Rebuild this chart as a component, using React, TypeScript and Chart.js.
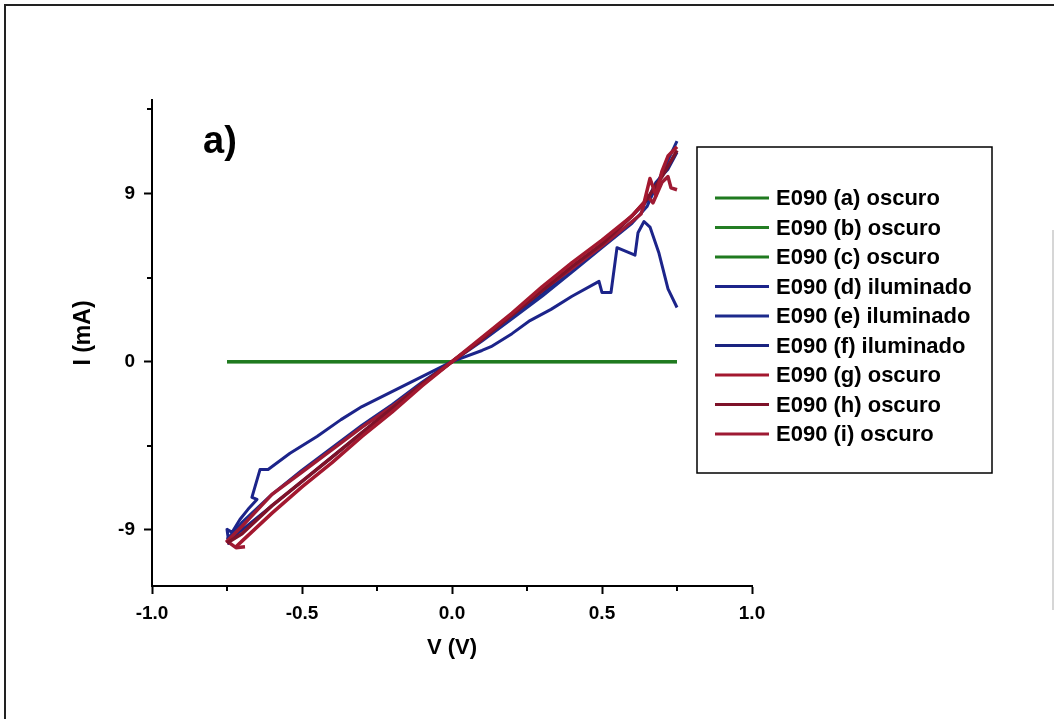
import React, { useEffect, useRef } from "react";
import { Chart, registerables } from "chart.js";

Chart.register(...registerables);

const FONT = "'Liberation Sans', Arial, Helvetica, sans-serif";

// ---------- data ----------
const seriesLabels = [
  "E090 (a) oscuro",
  "E090 (b) oscuro",
  "E090 (c) oscuro",
  "E090 (d) iluminado",
  "E090 (e) iluminado",
  "E090 (f) iluminado",
  "E090 (g) oscuro",
  "E090 (h) oscuro",
  "E090 (i) oscuro",
];

const seriesColors = [
  "#1f7a1f",
  "#237d23",
  "#1f7a1f",
  "#1c248a",
  "#1c2a8c",
  "#1a2380",
  "#a3182f",
  "#7e1229",
  "#9e1a33",
];

const xTickValues = [-1, -0.5, 0, 0.5, 1];
const yTickValues = [-9, 0, 9];
const xMinorTicks = [-0.75, -0.25, 0.25, 0.75];
const yMinorTicks = [-4.5, 4.5, 13.5];

const xTitle = "V (V)";
const yTitle = "I (mA)";
const panelLabel = "a)";

// E090 (a), (b), (c) oscuro
const aV = [-0.75, -0.5, -0.25, 0, 0.25, 0.5, 0.75];
const aI = [0, 0, 0, 0, 0, 0, 0];
const bV = [-0.75, -0.5, -0.25, 0, 0.25, 0.5, 0.75];
const bI = [0, 0, 0, 0, 0, 0, 0];
const cV = [-0.75, -0.5, -0.25, 0, 0.25, 0.5, 0.75];
const cI = [0, 0, 0, 0, 0, 0, 0];

// E090 (d) iluminado (deviating curve)
const dV = [-0.743, -0.75, -0.733, -0.707, -0.68, -0.65, -0.667, -0.64, -0.613, -0.54, -0.45, -0.37, -0.3, -0.2, -0.1, 0, 0.1, 0.13, 0.2, 0.26, 0.33, 0.4, 0.49, 0.5, 0.53, 0.55, 0.58, 0.61, 0.62, 0.64, 0.66, 0.69, 0.72, 0.75];
const dI = [-9.8, -8.97, -9.13, -8.44, -7.9, -7.37, -7.26, -5.77, -5.77, -4.9, -4.0, -3.1, -2.4, -1.6, -0.8, 0, 0.6, 0.8, 1.5, 2.2, 2.8, 3.5, 4.3, 3.7, 3.7, 6.1, 5.9, 5.7, 6.9, 7.5, 7.2, 5.8, 3.9, 2.9];

// E090 (e) iluminado
const eV = [-0.75, -0.7, -0.6, -0.5, -0.4, -0.3, -0.2, -0.1, 0, 0.1, 0.2, 0.3, 0.4, 0.5, 0.6, 0.65, 0.7, 0.75];
const eI = [-9.5, -8.6, -7.1, -5.8, -4.6, -3.4, -2.3, -1.1, 0, 1.1, 2.3, 3.5, 4.8, 6.1, 7.4, 8.3, 10.1, 11.8];

// E090 (f) iluminado
const fV = [0.75, 0.72, 0.68, 0.65, 0.6, 0.5, 0.4, 0.3, 0.2, 0.1, 0, -0.1, -0.2, -0.3, -0.4, -0.5, -0.6, -0.7, -0.74];
const fI = [11.2, 10.3, 9.6, 8.6, 7.8, 6.3, 5.0, 3.6, 2.4, 1.2, 0, -1.2, -2.5, -3.8, -5.1, -6.4, -7.7, -9.0, -9.5];

// E090 (g) oscuro
const gV = [-0.72, -0.7, -0.6, -0.5, -0.4, -0.3, -0.2, -0.1, 0, 0.1, 0.2, 0.3, 0.4, 0.5, 0.6, 0.64, 0.66, 0.68, 0.7, 0.72, 0.75];
const gI = [-9.9, -9.6, -8.1, -6.7, -5.4, -4.0, -2.7, -1.3, 0, 1.3, 2.6, 4.0, 5.3, 6.5, 7.8, 8.5, 9.8, 8.9, 10.2, 11.0, 11.5];

// E090 (h) oscuro
const hV = [0.75, 0.7, 0.65, 0.6, 0.5, 0.4, 0.3, 0.2, 0.1, 0, -0.1, -0.2, -0.3, -0.4, -0.5, -0.6, -0.7, -0.75];
const hI = [11.3, 9.9, 8.7, 7.8, 6.3, 5.1, 3.8, 2.5, 1.2, 0, -1.2, -2.5, -3.8, -5.1, -6.4, -7.7, -9.2, -9.7];

// E090 (i) oscuro
const iV = [-0.69, -0.72, -0.75, -0.7, -0.6, -0.5, -0.4, -0.3, -0.2, -0.1, 0, 0.1, 0.2, 0.3, 0.4, 0.5, 0.6, 0.63, 0.65, 0.67, 0.7, 0.72, 0.73, 0.75];
const iI = [-9.9, -9.95, -9.6, -8.8, -7.1, -5.9, -4.7, -3.5, -2.4, -1.2, 0, 1.2, 2.5, 3.8, 5.0, 6.2, 7.5, 7.9, 8.9, 8.5, 9.6, 9.9, 9.3, 9.2];

const seriesV = [aV, bV, cV, dV, eV, fV, gV, hV, iV];
const seriesI = [aI, bI, cI, dI, eI, fI, gI, hI, iI];
const seriesWidth = [3, 3, 3, 3, 3, 3, 3.5, 3.5, 3.5];
const seriesOrder = [2, 2, 2, 1, 1, 1, 0, 0, 0];

// ---------- decorations ----------
const decor = {
  id: "decor",
  afterDraw(chart: any) {
    const c = chart.ctx as CanvasRenderingContext2D;
    const xs = chart.scales.x;
    const ys = chart.scales.y;
    c.save();

    // outer frame
    c.strokeStyle = "#222";
    c.lineWidth = 2;
    c.beginPath();
    c.moveTo(5, 719);
    c.lineTo(5, 5);
    c.lineTo(1054, 5);
    c.stroke();
    c.strokeStyle = "#c8c8c8";
    c.lineWidth = 1.5;
    c.beginPath();
    c.moveTo(1053, 230);
    c.lineTo(1053, 610);
    c.stroke();

    // minor ticks
    c.strokeStyle = "#000";
    c.lineWidth = 2;
    c.beginPath();
    for (const v of xMinorTicks) {
      const px = Math.round(xs.getPixelForValue(v));
      c.moveTo(px, ys.bottom);
      c.lineTo(px, ys.bottom + 5);
    }
    for (const v of yMinorTicks) {
      const py = Math.round(ys.getPixelForValue(v));
      c.moveTo(xs.left, py);
      c.lineTo(xs.left - 5, py);
    }
    c.stroke();

    // axis titles
    c.fillStyle = "#000";
    c.font = `bold 22px ${FONT}`;
    c.textAlign = "center";
    c.textBaseline = "middle";
    c.fillText(xTitle, (xs.left + xs.right) / 2, 648);
    c.save();
    c.translate(84, 333);
    c.rotate(-Math.PI / 2);
    c.font = `bold 23px ${FONT}`;
    c.fillText(yTitle, 0, 0);
    c.restore();

    // panel label
    c.font = `bold 38px ${FONT}`;
    c.textAlign = "left";
    c.textBaseline = "alphabetic";
    c.fillText(panelLabel, 203, 153);

    // legend box
    const bx = 697, by = 147, bw = 295, bh = 326;
    c.strokeStyle = "#000";
    c.lineWidth = 1.5;
    c.strokeRect(bx, by, bw, bh);
    c.font = `bold 22px ${FONT}`;
    c.textBaseline = "middle";
    chart.data.datasets.forEach((ds: any, k: number) => {
      const y = 198 + k * 29.5;
      c.strokeStyle = ds.borderColor;
      c.lineWidth = 3;
      c.beginPath();
      c.moveTo(715, y);
      c.lineTo(769, y);
      c.stroke();
      c.fillStyle = "#000";
      c.fillText(ds.label, 776, y + 1);
    });

    c.restore();
  },
};

export default function App() {
  const ref = useRef<HTMLCanvasElement>(null);

  useEffect(() => {
    document.body.style.margin = "0";
    const canvas = ref.current!;
    const datasets = seriesLabels.map((label, k) => ({
      label,
      data: seriesV[k].map((v, j) => ({ x: v, y: seriesI[k][j] })),
      borderColor: seriesColors[k],
      backgroundColor: seriesColors[k],
      borderWidth: seriesWidth[k],
      showLine: true,
      pointRadius: 0,
      tension: 0,
      fill: false,
      order: seriesOrder[k],
      borderJoinStyle: "round" as const,
    }));

    const tickFont = { family: FONT, size: 19, weight: "bold" as const };

    const chart = new Chart(canvas, {
      type: "scatter",
      data: { datasets },
      options: {
        animation: false,
        responsive: false,
        maintainAspectRatio: false,
        layout: { padding: { left: 0, top: 100, right: 302, bottom: 0 } },
        plugins: {
          legend: { display: false },
          tooltip: { enabled: false },
          title: { display: false },
        },
        scales: {
          x: {
            type: "linear",
            min: -1,
            max: 1,
            afterBuildTicks: (s: any) => {
              s.ticks = xTickValues.map((v) => ({ value: v }));
            },
            afterFit: (s: any) => {
              s.height = 133;
            },
            ticks: {
              color: "#000",
              font: tickFont,
              padding: 8,
              maxRotation: 0,
              autoSkip: false,
              callback: (v: any) => Number(v).toFixed(1),
            },
            grid: {
              display: true,
              drawOnChartArea: false,
              drawTicks: true,
              tickLength: 8,
              tickWidth: 2,
              tickColor: "#000",
            },
            border: { display: true, color: "#000", width: 2 },
          },
          y: {
            type: "linear",
            min: -12,
            max: 14,
            afterBuildTicks: (s: any) => {
              s.ticks = yTickValues.map((v) => ({ value: v }));
            },
            afterFit: (s: any) => {
              s.width = 152;
            },
            ticks: {
              color: "#000",
              font: tickFont,
              padding: 9,
              autoSkip: false,
              callback: (v: any) => String(v),
            },
            grid: {
              display: true,
              drawOnChartArea: false,
              drawTicks: true,
              tickLength: 8,
              tickWidth: 2,
              tickColor: "#000",
            },
            border: { display: true, color: "#000", width: 2 },
          },
        },
      },
      plugins: [decor],
    });

    return () => chart.destroy();
  }, []);

  return (
    <div style={{ width: 1054, height: 719, position: "relative", overflow: "hidden", background: "#fff" }}>
      <canvas ref={ref} width={1054} height={719} style={{ display: "block", width: 1054, height: 719 }} />
    </div>
  );
}
